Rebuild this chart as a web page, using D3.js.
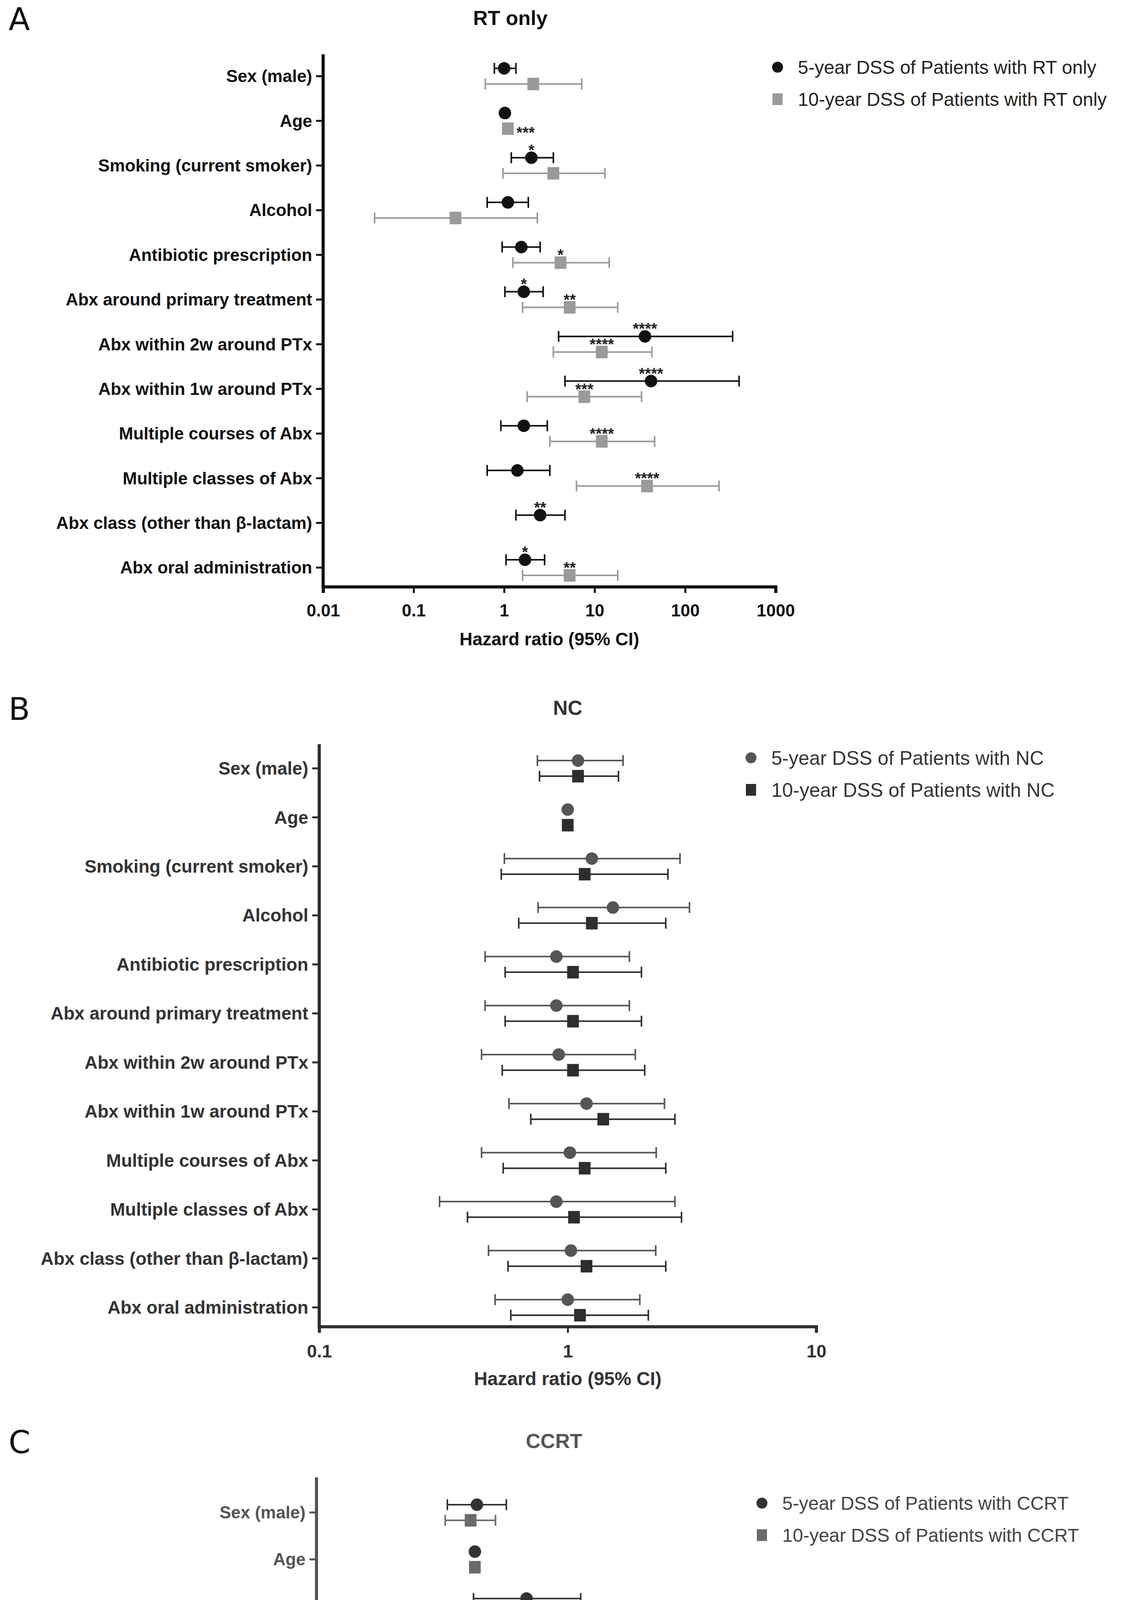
<!DOCTYPE html>
<html><head><meta charset="utf-8">
<script src="https://cdn.jsdelivr.net/npm/d3@7"></script>
<style>html,body{margin:0;background:#fff;overflow:hidden}svg{display:block}</style>
</head><body>
<script>
const W = 2892, H = 5453;
const categories = ["Sex (male)", "Age", "Smoking (current smoker)", "Alcohol", "Antibiotic prescription",
  "Abx around primary treatment", "Abx within 2w around PTx", "Abx within 1w around PTx",
  "Multiple courses of Abx", "Multiple classes of Abx", "Abx class (other than β-lactam)", "Abx oral administration"];

// RT only: [HR, lo, hi]
const rt5 = [[1.0,0.78,1.35],[1.02,null,null],[2.0,1.2,3.5],[1.1,0.65,1.85],[1.55,0.95,2.5],[1.65,1.02,2.7],
  [36,4.0,335],[42,4.7,395],[1.65,0.92,3.0],[1.4,0.65,3.2],[2.5,1.35,4.7],[1.7,1.05,2.8]];
const rt10 = [[2.1,0.62,7.2],[1.1,null,null],[3.5,0.97,13],[0.29,0.037,2.33],[4.2,1.25,14.5],[5.3,1.6,18],
  [12,3.5,43],[7.7,1.8,33],[12,3.2,46],[38,6.3,237],null,[5.3,1.6,18]];
const rt5Stars = ["","","*","","","*","****","****","","","**","*"];
const rt10Stars = ["","***","","","*","**","****","***","****","****","","**"];

// NC
const nc5 = [[1.1,0.755,1.67],[1.0,null,null],[1.25,0.556,2.83],[1.52,0.76,3.09],[0.9,0.465,1.77],[0.9,0.465,1.77],
  [0.92,0.45,1.87],[1.19,0.58,2.45],[1.02,0.45,2.27],[0.9,0.305,2.7],[1.03,0.48,2.26],[1.0,0.51,1.95]];
const nc10 = [[1.1,0.77,1.6],[1.0,null,null],[1.17,0.54,2.53],[1.25,0.635,2.48],[1.05,0.56,1.98],[1.05,0.56,1.98],
  [1.05,0.545,2.04],[1.39,0.71,2.7],[1.17,0.55,2.48],[1.06,0.395,2.87],[1.19,0.575,2.48],[1.12,0.59,2.11]];

// CCRT
const cc5 = [[1.03,0.67,1.58],[1.0,null,null],[2.12,0.98,4.66],[0.77,0.31,1.91],[1.23,0.58,2.64],[1.31,0.62,2.82],
  [1.22,0.54,2.73],[1.11,0.46,2.64],[0.85,0.28,2.56],[0.79,0.18,3.5],[1.97,0.57,6.8],[1.3,0.6,2.76]];
const cc10 = [[0.94,0.65,1.35],[1.0,null,null],[2.0,1.07,3.8],[1.3,0.67,2.51],[1.29,0.7,2.38],[1.37,0.75,2.51],
  [1.15,0.59,2.26],[1.0,0.49,2.08],[0.84,0.34,2.04],[0.5,0.118,2.1],[1.38,0.42,4.66],[1.29,0.69,22]];
const cc10Stars = ["","","*","","","","","","","","",""];

const panels = [
  {letter:"A", title:"RT only", domain:[0.01,1000], ticks:["0.01","0.1","1","10","100","1000"],
   x0:827, x1:1985, top:139, bottom:1502, row0:195, row1:1453,
   axis:"#111", text:"#111", fs:44,
   s5:rt5, s10:rt10, st5:rt5Stars, st10:rt10Stars, c5:"#111", c10:"#9a9a9a",
   leg:["5-year DSS of Patients with RT only","10-year DSS of Patients with RT only"], legX:1990, legY:172, legC:"#222"},
  {letter:"B", title:"NC", domain:[0.1,10], ticks:["0.1","1","10"],
   x0:817, x1:2089, top:1905, bottom:3396, row0:1967, row1:3347,
   axis:"#2e2e2e", text:"#333", fs:46,
   s5:nc5, s10:nc10, st5:null, st10:null, c5:"#555", c10:"#2e2e2e",
   leg:["5-year DSS of Patients with NC","10-year DSS of Patients with NC"], legX:1922, legY:1940, legC:"#333"},
  {letter:"C", title:"CCRT", domain:[0.1,100], ticks:["0.1","1","10","100"],
   x0:810, x1:2026, top:3782, bottom:5273, row0:3872, row1:5193,
   axis:"#555", text:"#555", fs:44,
   s5:cc5, s10:cc10, st5:null, st10:cc10Stars, c5:"#333", c10:"#6a6a6a",
   leg:["5-year DSS of Patients with CCRT","10-year DSS of Patients with CCRT"], legX:1950, legY:3848, legC:"#444"}
];

const svg = d3.select("body").append("svg").attr("width", W).attr("height", H);

panels.forEach(p => {
  const g = svg.append("g").attr("font-family", "'Liberation Sans',Arial,sans-serif");
  const x = d3.scaleLog().domain(p.domain).range([p.x0, p.x1]);
  const y = d3.scalePoint().domain(categories).range([p.row0, p.row1]);
  const off = 20;

  g.append("text").attr("x", 22).attr("y", p.top - 62).attr("font-size", 80)
    .attr("font-family", "'DejaVu Sans',sans-serif").attr("fill", "#111").text(p.letter);
  g.append("text").attr("x", (p.x0 + p.x1) / 2 + (p.letter === "A" ? -100 : 0)).attr("y", p.top - 75)
    .attr("text-anchor", "middle").attr("font-weight", "bold").attr("font-size", 52)
    .attr("fill", p.text).text(p.title);

  // x axis
  const xa = g.append("g").attr("transform", `translate(0,${p.bottom})`)
    .call(d3.axisBottom(x).tickValues(p.ticks.map(Number)).tickFormat((d, i) => p.ticks[i]).tickSize(16));
  xa.select(".domain").attr("stroke", p.axis).attr("stroke-width", 8);
  xa.selectAll(".tick line").attr("stroke", p.axis).attr("stroke-width", 5);
  xa.selectAll(".tick text").attr("font-size", p.fs).attr("font-weight", "bold").attr("fill", p.text)
    .attr("font-family", "'Liberation Sans',Arial,sans-serif").attr("dy", "1.3em");
  g.append("text").attr("x", (p.x0 + p.x1) / 2).attr("y", p.bottom + 150).attr("text-anchor", "middle")
    .attr("font-size", p.fs + 2).attr("font-weight", "bold").attr("fill", p.text).text("Hazard ratio (95% CI)");

  // y axis
  g.append("line").attr("x1", p.x0).attr("x2", p.x0).attr("y1", p.top).attr("y2", p.bottom + 4)
    .attr("stroke", p.axis).attr("stroke-width", 8);
  categories.forEach(c => {
    g.append("line").attr("x1", p.x0 - 18).attr("x2", p.x0).attr("y1", y(c)).attr("y2", y(c))
      .attr("stroke", p.axis).attr("stroke-width", 5);
    g.append("text").attr("x", p.x0 - 28).attr("y", y(c)).attr("dy", "0.35em").attr("text-anchor", "end")
      .attr("font-size", p.fs).attr("font-weight", "bold").attr("fill", p.text).text(c);
  });

  const series = [
    {data:p.s5, stars:p.st5, color:p.c5, dy:-off, shape:"circle"},
    {data:p.s10, stars:p.st10, color:p.c10, dy:off, shape:"square"}
  ];
  series.forEach(s => {
    s.data.forEach((d, i) => {
      if (!d) return;
      const cy = y(categories[i]) + s.dy;
      if (d[1] != null) {
        g.append("line").attr("x1", x(d[1])).attr("x2", x(d[2])).attr("y1", cy).attr("y2", cy)
          .attr("stroke", s.color).attr("stroke-width", 4);
        [d[1], d[2]].forEach(v => g.append("line").attr("x1", x(v)).attr("x2", x(v))
          .attr("y1", cy - 14).attr("y2", cy + 14).attr("stroke", s.color).attr("stroke-width", 4));
      }
      if (s.shape === "circle")
        g.append("circle").attr("cx", x(d[0])).attr("cy", cy).attr("r", 16).attr("fill", s.color);
      else
        g.append("rect").attr("x", x(d[0]) - 15).attr("y", cy - 16).attr("width", 30).attr("height", 32).attr("fill", s.color);
      const st = s.stars ? s.stars[i] : "";
      if (st) {
        if (d[1] == null)
          g.append("text").attr("x", x(d[0]) + 22).attr("y", cy + 24).attr("font-size", 40)
            .attr("font-weight", "bold").attr("fill", "#222").text(st);
        else
          g.append("text").attr("x", x(d[0])).attr("y", cy - 6).attr("text-anchor", "middle").attr("font-size", 40)
            .attr("font-weight", "bold").attr("fill", "#222").text(st);
      }
    });
  });

  // legend
  p.leg.forEach((t, i) => {
    const ly = p.legY + i * 82;
    const c = i === 0 ? p.c5 : p.c10;
    if (i === 0) g.append("circle").attr("cx", p.legX).attr("cy", ly).attr("r", 14).attr("fill", c);
    else g.append("rect").attr("x", p.legX - 13).attr("y", ly - 15).attr("width", 26).attr("height", 30).attr("fill", c);
    g.append("text").attr("x", p.legX + 52).attr("y", ly).attr("dy", "0.35em").attr("font-size", p.fs + 4)
      .attr("fill", p.legC).text(t);
  });
});
</script>
</body></html>
